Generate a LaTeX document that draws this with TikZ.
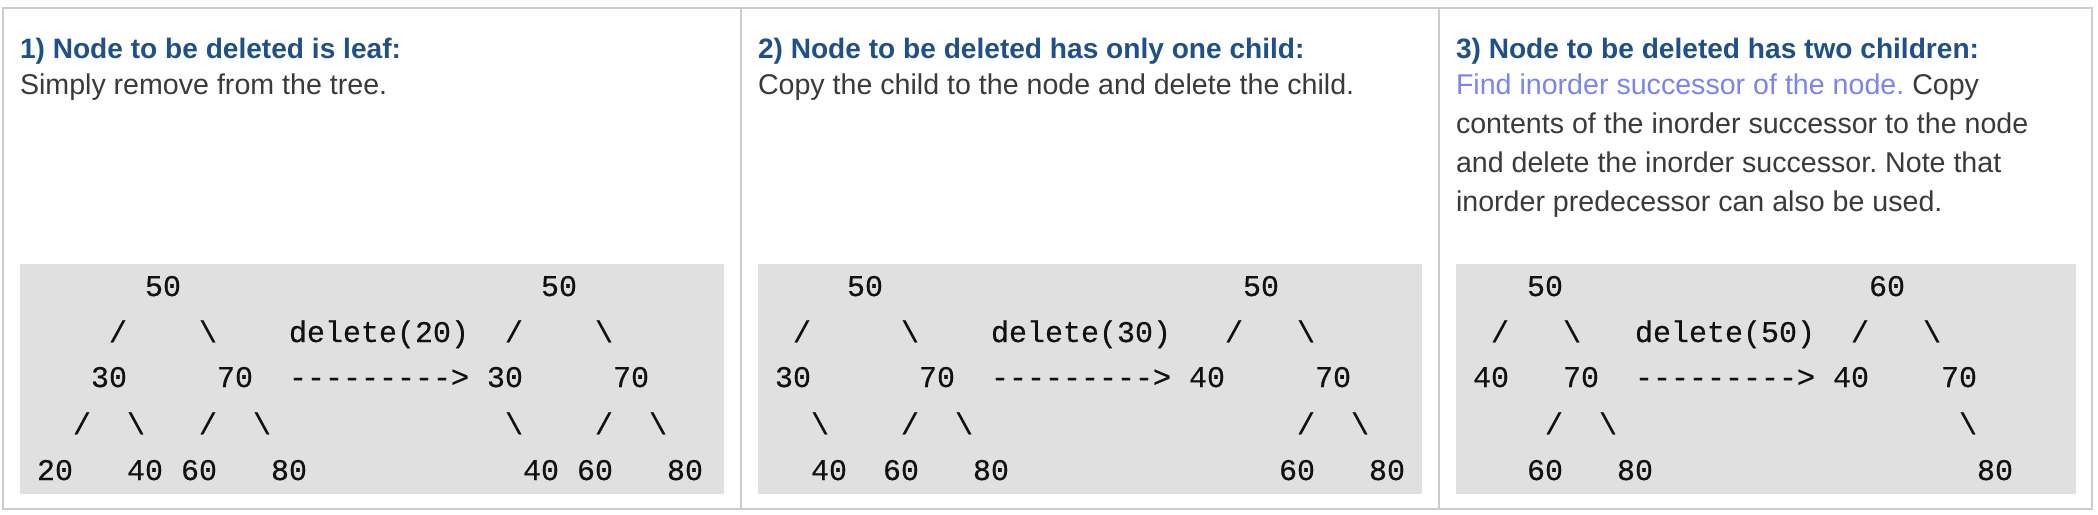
\documentclass[tikz,border=0pt]{standalone}
\usepackage{fontspec}
\setmainfont{Liberation Sans}
\newfontfamily\codefont{Liberation Mono}[FakeBold=0.5]
\definecolor{framegray}{HTML}{CCCCCC}
\definecolor{codebg}{HTML}{E0E0E0}
\definecolor{titleblue}{HTML}{1F5089}
\definecolor{linkblue}{HTML}{7A85F0}
\definecolor{bodytext}{HTML}{3A3A3A}
\definecolor{codetext}{HTML}{111111}
\newlength\cw
\setlength\cw{9pt}
\newcommand\sk[1]{\hspace*{#1\cw}}
\newcommand\bs{\textbackslash}
\newcommand\hy{\mbox{-}}
\newcommand\arrowtxt{\hy\hy\hy\hy\hy\hy\hy\hy\hy>}
\begin{document}
\begin{tikzpicture}[x=0.5pt,y=-0.5pt,
  frame/.style={draw=framegray,line width=1pt},
  codebox/.style={fill=codebg},
  txt/.style={anchor=base west,inner sep=0pt,outer sep=0pt},
  title/.style={txt,text=titleblue,font=\fontsize{14.05}{18}\selectfont\bfseries\frenchspacing},
  body/.style={txt,text=bodytext,font=\fontsize{14.3}{18}\selectfont\frenchspacing},
  code/.style={txt,text=codetext,font=\codefont\fontsize{15}{15}\selectfont}]
\useasboundingbox (0,0) rectangle (2098,514);
\fill[white] (0,0) rectangle (2098,514);
% frame and dividers
\draw[frame] (3,8) rectangle (2092,509);
\draw[frame] (741,8) -- (741,509);
\draw[frame] (1439,8) -- (1439,509);
% code backgrounds
\fill[codebox] (20,264) rectangle (724,494);
\fill[codebox] (758,264) rectangle (1422,494);
\fill[codebox] (1456,264) rectangle (2076,494);
% panel 1 text
\node[title] (t1) at (20,58) {1) Node to be deleted is leaf:};
\node[body] (b1) at (20,94) {Simply remove from the tree.};
% panel 2 text
\node[title] (t2) at (758,58) {2) Node to be deleted has only one child:};
\node[body] (b2) at (758,94) {Copy the child to the node and delete the child.};
% panel 3 text
\node[title] (t3) at (1456,58) {3) Node to be deleted has two children:};
\node[body] (b3a) at (1456,94) {\textcolor{linkblue}{Find inorder successor of the node.} Copy};
\node[body] (b3b) at (1456,133) {contents of the inorder successor to the node};
\node[body] (b3c) at (1456,172) {and delete the inorder successor. Note that};
\node[body] (b3d) at (1456,211) {inorder predecessor can also be used.};
% panel 1 code
\node[code] (c1a) at (37,296) {\sk{6}50\sk{20}50};
\node[code] (c1b) at (37,342) {\sk{4}/\sk{4}\bs\sk{4}delete(20)\sk{2}/\sk{4}\bs};
\node[code] (c1c) at (37,387) {\sk{3}30\sk{5}70\sk{2}\arrowtxt\sk{1}30\sk{5}70};
\node[code] (c1d) at (37,434) {\sk{2}/\sk{2}\bs\sk{3}/\sk{2}\bs\sk{13}\bs\sk{4}/\sk{2}\bs};
\node[code] (c1e) at (37,480) {20\sk{3}40\sk{1}60\sk{3}80\sk{12}40\sk{1}60\sk{3}80};
% panel 2 code
\node[code] (c2a) at (775,296) {\sk{4}50\sk{20}50};
\node[code] (c2b) at (775,342) {\sk{1}/\sk{5}\bs\sk{4}delete(30)\sk{3}/\sk{3}\bs};
\node[code] (c2c) at (775,387) {30\sk{6}70\sk{2}\arrowtxt\sk{1}40\sk{5}70};
\node[code] (c2d) at (775,434) {\sk{2}\bs\sk{4}/\sk{2}\bs\sk{18}/\sk{2}\bs};
\node[code] (c2e) at (775,480) {\sk{2}40\sk{2}60\sk{3}80\sk{15}60\sk{3}80};
% panel 3 code
\node[code] (c3a) at (1473,296) {\sk{3}50\sk{17}60};
\node[code] (c3b) at (1473,342) {\sk{1}/\sk{3}\bs\sk{3}delete(50)\sk{2}/\sk{3}\bs};
\node[code] (c3c) at (1473,387) {40\sk{3}70\sk{2}\arrowtxt\sk{1}40\sk{4}70};
\node[code] (c3d) at (1473,434) {\sk{4}/\sk{2}\bs\sk{19}\bs};
\node[code] (c3e) at (1473,480) {\sk{3}60\sk{3}80\sk{18}80};
\end{tikzpicture}
\end{document}
